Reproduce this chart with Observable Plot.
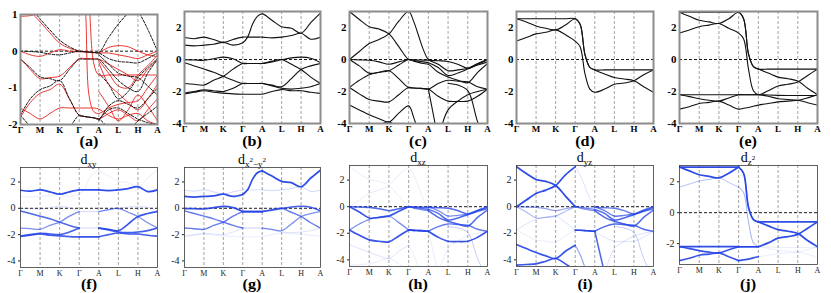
<!DOCTYPE html>
<html><head><meta charset="utf-8">
<script src="https://cdn.jsdelivr.net/npm/d3@7"></script>
<script src="https://cdn.jsdelivr.net/npm/@observablehq/plot@0.6"></script>
<style>
body{margin:0;background:#fff;}
#root{position:relative;width:831px;height:293px;overflow:hidden;font-family:"Liberation Serif",serif;background:#fff;}
#root svg{position:absolute;overflow:visible;}
#root svg text{font-family:"Liberation Serif",serif;}
.lab{position:absolute;transform:translate(-50%,-50%) scaleX(1.15);font:bold 14px "Liberation Serif",serif;line-height:12px;white-space:nowrap;}
.ttl{position:absolute;transform:translateX(-50%);font:14px "Liberation Serif",serif;line-height:11px;white-space:nowrap;}
.ttl sub{font-size:9px;vertical-align:-3px;line-height:0;}
.ttl sub sup{font-size:7px;vertical-align:5px;}
</style></head>
<body><div id="root"></div>
<script>
// k-path (Γ M K Γ A L H A), sample positions
const kPos = [0,0.5,1,1.5,2,2.5,3,3.25,3.5,3.75,4,4.5,5,5.5,6,6.5,7];
const kTicks = [0,1,2,3,4,5,6,7];
const kLabels = ["Γ","M","K","Γ","A","L","H","A"];

// panel (a): black dashed bands
const aK1 = [1.6,1.2,0.88,0.58,0.3,0.12,0.0, -0.01,-0.02,-0.03,-0.04, 0.37,0.74,1.05,1.4,1.8,2.0];
const aK2 = [null,null,null,null,null,null,null, null,null,null,null, null,2.2,1.6,1.12,0.6,0.0];
const aK3 = [0.0,-0.01,-0.03,-0.08,-0.1,-0.05,0.0, -0.02,-0.03,-0.04,-0.05, -0.2,-0.28,-0.3,-0.32,-0.2,-0.05];
const aK4 = [-0.22,-0.45,-0.7,-0.75,-0.8,-0.5,-0.22, -0.22,-0.22,-0.22,-0.22, -0.5,-0.8,-1.0,-1.1,-0.6,-0.22];
const aK5 = [-1.75,-1.3,-1.05,-0.95,-0.8,-1.3,-1.75, -1.78,-1.8,-1.82,-1.85, -1.5,-1.35,-1.45,-1.55,-1.3,-1.0];
const aK6 = [-1.75,-2.05,-2.3,-2.4,-2.45,-2.1,-1.75, -1.78,-1.8,-1.82,-1.85, -2.1,-2.4,-2.2,-1.9,-1.7,-1.5];
const aK7 = [null,null,null,null,null,null,null, null,null,null,-0.1, -0.35,-0.6,-0.68,-0.72,-0.95,-1.2];
const aK8 = [null,null,null,null,null,null,null, null,null,null,-0.6, -0.9,-1.3,-1.1,-0.72,-0.45,-0.2];
const aK9 = [null,null,null,null,null,null,null, null,null,null,-1.9, -1.6,-1.55,-1.7,-1.85,-1.95,-2.0];
// panel (a): red bands
const aR1 = [0.0,-0.1,-0.14,-0.05,0.04,0.0,-0.02, -0.02,-0.03,-0.04,-0.05, -0.05,-0.1,-0.15,-0.2,-0.1,0.0];
const aR2 = [-0.2,-0.5,-0.75,-0.72,-0.68,-0.45,-0.2, -0.2,-0.2,-0.21,-0.22, -0.35,-0.5,-0.65,-0.8,-0.5,-0.25];
const aR3 = [1.5,1.1,0.8,0.5,0.22,0.08,0.0, null,null,null,null, null,null,null,null,null,null];
const aR4 = [0.95,0.97,1.05,1.2,1.4,1.6,1.8, null,null,null,null, null,null,null,null,null,null];
const aR5 = [2.5,2.5,2.5,2.5,2.5,2.5,2.5, 2.4,1.3,-0.35,-0.65, -0.65,-0.65,-0.65,-0.65,-0.65,-0.65];
const aR6 = [1.9,2.0,2.1,2.1,2.1,2.0,1.9, 1.5,-1.2,-1.65,-1.7, -1.55,-1.45,-1.4,-1.35,-1.0,-0.65];
const aR7 = [-1.55,-1.7,-1.85,-1.7,-1.55,-1.55,-1.55, -1.55,-1.55,-1.55,-1.58, -1.75,-1.85,-1.75,-1.7,-1.9,-2.0];
const aR8 = [null,null,null,null,null,null,null, null,null,null,-0.25, -0.6,-0.95,-1.0,-0.65,-0.4,-0.1];
const aR9 = [null,null,null,null,null,null,null, null,null,null,-0.3, -0.9,-1.15,-1.4,-1.6,-1.3,-0.9];
const aR10 = [null,null,null,null,null,null,null, null,null,null,-1.1, -1.5,-1.9,-1.6,-1.2,-1.5,-1.9];
const aR11 = [-1.8,-1.4,-1.15,-1.05,-0.9,-1.3,-1.75, -1.78,-1.8,-1.82,-1.85, -1.7,-1.6,-1.75,-1.9,-1.6,-1.3];
const aR12 = [null,null,null,null,null,null,null, null,null,null,-0.05, 0.1,0.15,0.12,0.0,-0.1,-0.15];

// panel (b) bands (also f, g)
const b1 = [1.37,1.30,1.40,1.25,1.07,1.25,1.40, 1.40,1.40,1.40,1.40, 1.35,1.40,1.50,1.64,1.27,1.40];
const b2 = [0.90,0.85,0.90,0.95,1.07,0.90,1.05, 1.40,2.20,2.70,2.85, 2.45,2.05,1.95,1.64,2.30,2.90];
const b3 = [-0.02,-0.03,-0.05,0.05,0.15,0.05,-0.25, -0.25,-0.25,-0.25,-0.25, -0.15,-0.02,0.10,0.15,0.08,-0.20];
const b4 = [-0.20,-0.40,-0.60,-0.80,-1.05,-1.30,-1.50, -1.50,-1.50,-1.50,-1.50, -1.60,-1.70,-1.20,-0.62,-0.40,-0.25];
const b5 = [-1.50,-1.55,-1.60,-1.30,-1.05,-0.60,-0.25, -0.25,-0.25,-0.25,-0.25, -0.10,0.00,-0.30,-0.62,-1.10,-1.50];
const b6 = [-2.10,-2.00,-1.90,-1.95,-2.00,-1.80,-1.50, -1.50,-1.50,-1.50,-1.50, -1.65,-1.80,-1.85,-1.80,-1.70,-1.50];
const b7 = [-2.15,-2.05,-1.95,-2.05,-2.10,-2.15,-2.17, -2.17,-2.17,-2.17,-2.17, -2.00,-1.88,-1.95,-1.95,-2.05,-2.12];

// panel (c) bands (also h, i)
const c1 = [3.0,2.5,2.05,1.9,1.6,0.8,0.0, -0.02,-0.03,-0.04,-0.05, -0.08,-0.12,-0.3,-0.55,-0.3,-0.02];
const c2 = [0.0,0.5,1.0,1.25,1.6,2.4,3.0, 2.4,1.5,0.6,0.0, -0.3,-0.7,-0.65,-0.55,-0.25,0.0];
const c3 = [0.0,-0.03,-0.05,-0.15,-0.3,-0.15,0.0, -0.05,-0.1,-0.15,-0.2, -0.5,-1.0,-0.85,-0.6,-0.35,-0.15];
const c4 = [0.0,-0.4,-0.85,-0.8,-0.7,-0.35,0.0, -0.1,-0.18,-0.25,-0.3, -0.8,-1.1,-1.3,-1.45,-0.8,-0.25];
const c5 = [-1.75,-1.3,-0.95,-0.8,-0.7,-1.2,-1.75, -1.78,-1.8,-1.82,-1.85, -1.5,-1.3,-1.35,-1.4,-1.7,-1.85];
const c6 = [-1.75,-2.15,-2.5,-2.6,-2.65,-2.2,-1.75, -1.78,-1.8,-1.82,-1.85, -2.3,-2.6,-2.62,-2.6,-2.3,-1.85];
const c7 = [-2.85,-3.15,-3.45,-3.7,-3.9,-3.35,-2.9, -3.6,-4.6,null,null, null,null,null,null,null,null];
const c8 = [-4.4,-4.35,-4.3,-4.1,-3.9,-4.3,-4.8, null,null,null,null, null,null,null,null,null,null];
const c9 = [null,null,null,null,null,null,null, null,null,null,-1.85, -5.0,null,null,null,null,null];
const c10 = [null,null,null,null,null,null,null, null,null,null,null, -5.0,-3.15,-2.6,-2.2,-2.0,-1.85];
const c11 = [null,null,null,null,null,null,null, null,null,null,null, null,-1.5,-1.6,-1.95,-3.9,-5.5];

// panel (d) bands
const d1 = [2.55,2.55,2.55,2.55,2.55,2.55,2.55, 2.2,0.3,-0.5,-0.65, -0.65,-0.65,-0.65,-0.65,-0.65,-0.65];
const d2 = [2.55,2.35,2.1,1.95,1.85,2.15,2.55, 2.2,0.3,-0.5,-0.65, -0.9,-1.13,-1.22,-1.33,-1.7,-2.05];
const d3 = [1.15,1.37,1.6,1.7,1.85,1.55,1.15, 0.8,-0.9,-1.85,-2.05, -1.85,-1.55,-1.47,-1.33,-0.95,-0.65];

// panel (e) bands (also j)
const e1 = [2.95,2.95,2.95,2.95,2.95,2.95,2.95, 2.55,0.35,-0.45,-0.6, -0.6,-0.6,-0.6,-0.6,-0.6,-0.6];
const e2 = [2.95,2.7,2.45,2.35,2.25,2.55,2.95, 2.55,0.35,-0.45,-0.6, -0.85,-1.1,-1.2,-1.35,-1.8,-2.2];
const e3 = [1.65,1.85,2.05,2.15,2.25,1.95,1.65, 1.3,-0.6,-1.95,-2.2, -1.95,-1.65,-1.55,-1.4,-1.0,-0.6];
const e4 = [-2.2,-2.2,-2.2,-2.2,-2.2,-2.2,-2.2, -2.2,-2.2,-2.2,-2.2, -2.22,-2.24,-2.25,-2.25,-2.25,-2.25];
const e5 = [-2.2,-2.32,-2.45,-2.55,-2.6,-2.4,-2.2, -2.2,-2.2,-2.2,-2.2, -2.3,-2.45,-2.5,-2.55,-2.7,-2.85];
const e6 = [-3.1,-2.95,-2.75,-2.68,-2.6,-2.85,-3.1, -3.05,-3.0,-2.92,-2.85, -2.75,-2.65,-2.6,-2.55,-2.4,-2.2];

// orbital weights per band: [Γ-M-K-Γ, Γ-A, A-L-H-A]
const wF = [[0.95,0.95,0.95],[0.12,0.1,0.12],[0.2,0.15,0.2],[0.8,0.15,0.9],[0.6,0.15,0.6],[0.85,0.15,0.85],[0.85,0.9,0.85]];
const wG = [[0.25,0.2,0.25],[0.95,0.95,0.95],[0.9,0.9,0.85],[0.7,0.2,0.6],[0.7,0.9,0.7],[0.2,0.15,0.2],[0.15,0.1,0.15]];
const wH = [[0.15,0.8,0.8],[0.15,0.15,0.6],[0.8,0.8,0.8],[0.9,0.6,0.8],[0.6,0.9,0.7],[0.9,0.9,0.9],[0.2,0.15,0.15],[0.15,0.15,0.15],[0.15,0.15,0.15],[0.15,0.15,0.15],[0.3,0.3,0.3]];
const wI = [[0.95,0.3,0.7],[0.95,0.2,0.7],[0.5,0.6,0.8],[0.4,0.6,0.8],[0.2,0.8,0.8],[0.15,0.8,0.2],[0.9,0.5,0.5],[0.9,0.5,0.5],[0.8,0.8,0.8],[0.2,0.2,0.2],[0.3,0.3,0.3]];
const wJ = [[0.95,0.95,0.95],[0.95,0.5,0.95],[0.35,0.4,0.95],[0.95,0.9,0.1],[0.9,0.9,0.1],[0.9,0.9,0.1]];

const bandsA_black = [aK1,aK2,aK3,aK4,aK5,aK6,aK7,aK8,aK9];
const bandsA_red = [aR1,aR2,aR3,aR4,aR5,aR6,aR7,aR8,aR9,aR10,aR11,aR12];
const bandsB = [b1,b2,b3,b4,b5,b6,b7];
const bandsC = [c1,c2,c3,c4,c5,c6,c7,c8,c9,c10,c11];
const bandsD = [d1,d2,d3];
const bandsE = [e1,e2,e3,e4,e5,e6];

function rowsOf(bands, weights) {
  const segs = weights ? [[0,6],[6,10],[10,16]] : [[0,16]];
  const pieces = [];
  bands.forEach((b, bi) => segs.forEach(([s, e], pi) => {
    pieces.push({bi, s, e, w: weights ? weights[bi][pi] : 1});
  }));
  pieces.sort((a, b) => a.w - b.w);
  const rows = [];
  pieces.forEach((p, zi) => {
    for (let i = p.s; i <= p.e; i++) {
      const v = bands[p.bi][i];
      if (v != null) rows.push({k: kPos[i], e: v, z: zi, w: p.w});
    }
  });
  return rows;
}

const root = document.getElementById("root");
const fmt = d => d < 0 ? "-" + Math.abs(d) : String(d);

function addPanel(cfg) {
  const mL = 26, mR = 4, mT = 2, mB = 16;
  const W = cfg.fr - cfg.fl + mL + mR, H = cfg.fb - cfg.ft + mT + mB;
  const marks = [
    Plot.ruleX(kTicks.slice(1, 7), {stroke: "#8c8c8c", strokeDasharray: "3,2", strokeWidth: 0.8}),
    Plot.ruleY([0], {stroke: "#000", strokeDasharray: "3,2", strokeWidth: 0.9}),
    ...cfg.marks,
    Plot.frame({stroke: cfg.top ? "#8c8c8c" : "#3a3a3a", strokeWidth: cfg.top ? 2 : 0.8})
  ];
  const svg = Plot.plot({
    width: W, height: H,
    marginLeft: mL, marginRight: mR, marginTop: mT, marginBottom: mB,
    style: {fontFamily: "'Liberation Serif', serif", fontWeight: cfg.top ? "bold" : "normal", background: "transparent", color: cfg.top ? "#000" : "#222", overflow: "visible"},
    x: {domain: [0, 7], ticks: kTicks, tickFormat: i => kLabels[i], tickSize: 0, tickPadding: cfg.top ? 2 : 3, label: null},
    y: {domain: cfg.yDomain, ticks: cfg.yTicks, tickFormat: fmt, tickSize: cfg.top ? 0 : 2, tickPadding: 3, label: null},
    marks
  });
  svg.style.left = (cfg.fl - mL) + "px";
  svg.style.top = (cfg.ft - mT) + "px";
  svg.querySelectorAll("text").forEach(t => {
    t.style.fontFamily = "'Liberation Serif', serif";
    t.style.fontWeight = cfg.top ? "bold" : "normal";
  });
  svg.querySelectorAll('[aria-label^="x-axis"] text').forEach(t => t.style.fontSize = cfg.top ? "9px" : "8px");
  svg.querySelectorAll('[aria-label^="y-axis"] text').forEach(t => t.style.fontSize = cfg.top ? "11px" : "10px");
  root.appendChild(svg);

  const lab = document.createElement("div");
  lab.className = "lab";
  lab.textContent = cfg.label;
  lab.style.left = ((cfg.fl + cfg.fr) / 2) + "px";
  lab.style.top = cfg.labelY + "px";
  root.appendChild(lab);

  if (cfg.title) {
    const t = document.createElement("div");
    t.className = "ttl";
    t.innerHTML = cfg.title;
    t.style.left = ((cfg.fl + cfg.fr) / 2) + "px";
    t.style.top = (cfg.ft - 13) + "px";
    root.appendChild(t);
  }
}

const blackLines = bands => Plot.line(rowsOf(bands), {x: "k", y: "e", z: "z", curve: "catmull-rom", clip: true, stroke: "#111", strokeWidth: 1.1});
const blueLines = (bands, w) => Plot.line(rowsOf(bands, w), {x: "k", y: "e", z: "z", curve: "catmull-rom", clip: true, stroke: "#2343e6", strokeOpacity: d => Math.max(0.15, d.w), strokeWidth: d => 0.5 + 1.3 * d.w});

const topY = [-4, 3], topTicks = [2, 0, -2, -4];
const botY = [-4.5, 3.1], botTicks = [2, 0, -2, -4];

addPanel({fl: 20, fr: 157, ft: 14, fb: 124, yDomain: [-2, 1], yTicks: [1, 0, -1, -2], top: true, label: "(a)", labelY: 142,
  marks: [
    Plot.line(rowsOf(bandsA_red), {x: "k", y: "e", z: "z", curve: "catmull-rom", clip: true, stroke: "#e8201c", strokeWidth: 0.9}),
    Plot.line(rowsOf(bandsA_black), {x: "k", y: "e", z: "z", curve: "catmull-rom", clip: true, stroke: "#111", strokeWidth: 1, strokeDasharray: "2.5,1.5"})
  ]});
addPanel({fl: 184, fr: 320, ft: 11, fb: 123, yDomain: topY, yTicks: topTicks, top: true, label: "(b)", labelY: 142, marks: [blackLines(bandsB)]});
addPanel({fl: 349, fr: 487, ft: 11, fb: 123, yDomain: topY, yTicks: topTicks, top: true, label: "(c)", labelY: 142, marks: [blackLines(bandsC)]});
addPanel({fl: 516, fr: 653, ft: 11, fb: 123, yDomain: topY, yTicks: topTicks, top: true, label: "(d)", labelY: 142, marks: [blackLines(bandsD)]});
addPanel({fl: 679, fr: 817, ft: 11, fb: 123, yDomain: topY, yTicks: topTicks, top: true, label: "(e)", labelY: 142, marks: [blackLines(bandsE)]});

addPanel({fl: 20, fr: 157, ft: 167, fb: 267, yDomain: botY, yTicks: botTicks, label: "(f)", labelY: 285, title: "d<sub>xy</sub>", marks: [blueLines(bandsB, wF)]});
addPanel({fl: 184, fr: 320, ft: 167, fb: 267, yDomain: botY, yTicks: botTicks, label: "(g)", labelY: 285, title: "d<sub>x<sup>2</sup>−y<sup>2</sup></sub>", marks: [blueLines(bandsB, wG)]});
addPanel({fl: 349, fr: 487, ft: 165, fb: 266, yDomain: botY, yTicks: botTicks, label: "(h)", labelY: 285, title: "d<sub>xz</sub>", marks: [blueLines(bandsC, wH)]});
addPanel({fl: 516, fr: 653, ft: 165, fb: 266, yDomain: botY, yTicks: botTicks, label: "(i)", labelY: 285, title: "d<sub>yz</sub>", marks: [blueLines(bandsC, wI)]});
addPanel({fl: 679, fr: 817, ft: 165, fb: 264, yDomain: [-3.35, 3.05], yTicks: [2, 0, -2], label: "(j)", labelY: 285, title: "d<sub>z<sup>2</sup></sub>", marks: [blueLines(bandsE, wJ)]});
</script>
</body></html>
